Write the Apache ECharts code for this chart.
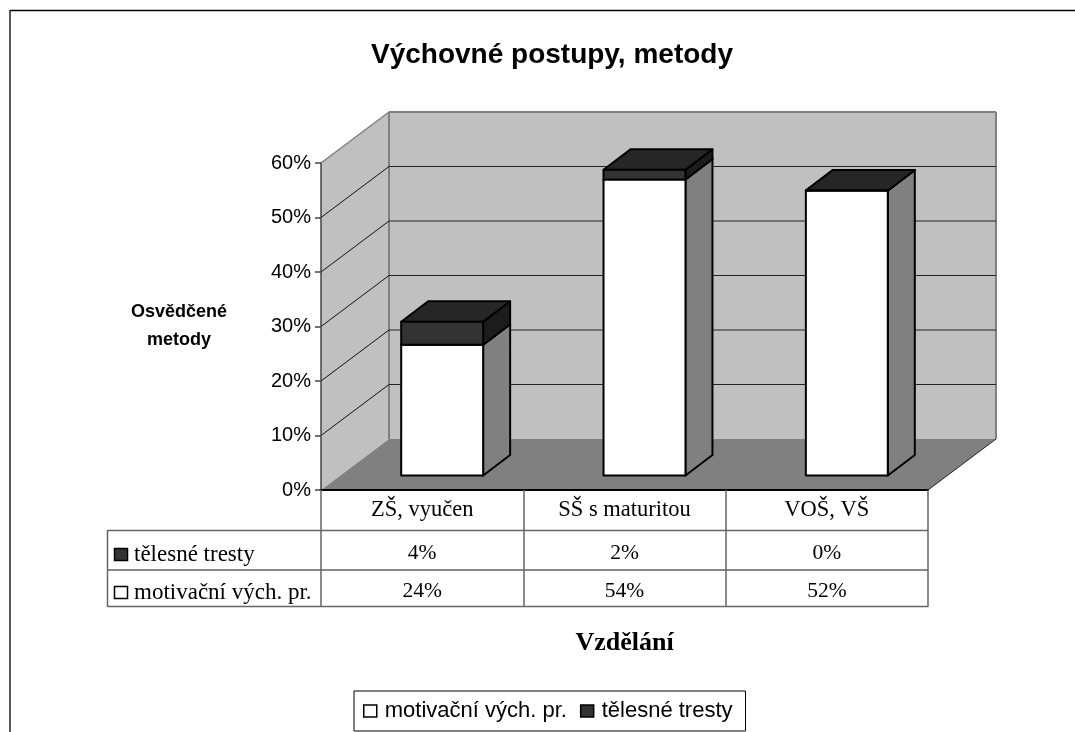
<!DOCTYPE html>
<html><head><meta charset="utf-8">
<style>html,body{margin:0;padding:0;background:#fff}#c{width:1075px;height:732px}</style>
<script src="https://cdn.jsdelivr.net/npm/echarts@6/dist/echarts.min.js"></script>
</head><body><div id="c"></div>
<script>
const categories = ['ZŠ, vyučen', 'SŠ s maturitou', 'VOŠ, VŠ'];
const motivacni = [24, 54.3, 52.3];
const telesne = [4.2, 1.8, 0];
const yTicks = [0, 10, 20, 30, 40, 50, 60];
const nameMotivacni = 'motivační vých. pr.';
const nameTelesne = 'tělesné tresty';

const SANS = '"Liberation Sans", Arial, sans-serif';
const SERIF = '"Liberation Serif", "Times New Roman", serif';
const GRID = { left: 321, top: 163, width: 607, height: 327 };
const WALL_DX = 68, WALL_DY = -51;
const BAR_DX = 20, BAR_DY = -14.5, BAR_DEPTH_DX = 27, BAR_DEPTH_DY = -20.5;
const ROW_TEL = 553, ROW_MOT = 591;

function poly(points, fill, stroke, lw) {
  return { type: 'polygon', shape: { points }, style: { fill, stroke: stroke || 'none', lineWidth: lw || 0, lineJoin: 'round' } };
}
function seg(x1, y1, x2, y2, stroke, lw) {
  return { type: 'line', shape: { x1, y1, x2, y2 }, style: { stroke, lineWidth: lw } };
}

function renderWalls(params, api) {
  const cs = params.coordSys;
  const tick = api.value(0);
  const y = api.coord([0, tick])[1];
  const L = cs.x, R = cs.x + cs.width, T = cs.y, B = cs.y + cs.height;
  const children = [];
  if (params.dataIndex === 0) {
    children.push(poly([[L, T], [L + WALL_DX, T + WALL_DY], [L + WALL_DX, B + WALL_DY], [L, B]], '#c0c0c0'));
    children.push(poly([[L + WALL_DX, T + WALL_DY], [R + WALL_DX, T + WALL_DY], [R + WALL_DX, B + WALL_DY], [L + WALL_DX, B + WALL_DY]], '#c0c0c0'));
    children.push(poly([[L, B], [L + WALL_DX, B + WALL_DY], [R + WALL_DX, B + WALL_DY], [R, B]], '#808080'));
    children.push(seg(R, B, R + WALL_DX, B + WALL_DY, '#222', 1));
    children.push(seg(L + WALL_DX, T + WALL_DY, R + WALL_DX, T + WALL_DY, '#808080', 2));
    children.push(seg(L + WALL_DX, T + WALL_DY, L + WALL_DX, B + WALL_DY, '#808080', 2));
    children.push(seg(R + WALL_DX, T + WALL_DY, R + WALL_DX, B + WALL_DY, '#808080', 2));
    children.push(seg(L, T, L + WALL_DX, T + WALL_DY, '#808080', 1.5));
  } else if (tick < yTicks[yTicks.length - 1]) {
    children.push(seg(L, y, L + WALL_DX, y + WALL_DY, '#111', 1));
    children.push(seg(L + WALL_DX, y + WALL_DY, R + WALL_DX, y + WALL_DY, '#222', 1));
  }
  return { type: 'group', children };
}

function barRenderer(front, side, top) {
  return function (params, api) {
    const i = api.value(0);
    const c0 = api.coord([i, api.value(1)]);
    const c1 = api.coord([i, api.value(2)]);
    const w = api.size([1, 0])[0] * 0.405;
    const xl = c0[0] - w / 2 + BAR_DX, xr = c0[0] + w / 2 + BAR_DX;
    const yb = c0[1] + BAR_DY, yt = c1[1] + BAR_DY;
    const ddx = BAR_DEPTH_DX, ddy = BAR_DEPTH_DY;
    const s = '#000', lw = 2;
    return { type: 'group', children: [
      poly([[xr, yb], [xr + ddx, yb + ddy], [xr + ddx, yt + ddy], [xr, yt]], side, s, lw),
      poly([[xl, yt], [xr, yt], [xr + ddx, yt + ddy], [xl + ddx, yt + ddy]], top, s, lw),
      poly([[xl, yb], [xr, yb], [xr, yt], [xl, yt]], front, s, lw)
    ] };
  };
}

function tableRow(values, rowY) {
  return {
    type: 'custom', z: 6, silent: true,
    data: values.map((v, i) => [i, v]),
    renderItem(params, api) {
      const x = api.coord([api.value(0), 0])[0];
      return { type: 'text', style: {
        text: Math.round(api.value(1)) + '%', x, y: rowY, align: 'center', verticalAlign: 'middle',
        font: '21.5px ' + SERIF, fill: '#000' } };
    }
  };
}

const chart = echarts.init(document.getElementById('c'), null, { renderer: 'canvas' });
chart.setOption({
  animation: false,
  backgroundColor: '#fff',
  title: {
    text: 'Výchovné postupy, metody', left: 547, top: 36, textAlign: 'center',
    textStyle: { fontFamily: SANS, fontSize: 28, fontWeight: 'bold', color: '#000' }
  },
  legend: {
    data: [nameMotivacni, nameTelesne], left: 354, top: 691, orient: 'horizontal', selectedMode: false,
    icon: 'rect', itemWidth: 13, itemHeight: 12, itemGap: 13, padding: [9, 13, 9, 9],
    borderColor: '#000', borderWidth: 1, backgroundColor: '#fff',
    textStyle: { fontFamily: SANS, fontSize: 22, color: '#000', padding: [0, 0, 0, 3] },
    itemStyle: { borderColor: '#000', borderWidth: 1.5 }
  },
  grid: { left: GRID.left, top: GRID.top, width: GRID.width, height: GRID.height, containLabel: false },
  xAxis: {
    type: 'category', data: categories, z: 5,
    name: 'Vzdělání', nameLocation: 'middle', nameGap: 140,
    nameTextStyle: { fontFamily: SERIF, fontSize: 26, fontWeight: 'bold', color: '#000' },
    axisLine: { lineStyle: { color: '#000', width: 2 } },
    axisTick: { show: true, alignWithLabel: false, length: 117, lineStyle: { color: '#666', width: 1.5 } },
    axisLabel: { margin: 9, fontFamily: SERIF, fontSize: 22.5, color: '#000' }
  },
  yAxis: {
    type: 'value', min: 0, max: 60, interval: 10, z: 5,
    name: 'Osvědčené\nmetody', nameLocation: 'middle', nameRotate: 0, nameGap: 142,
    nameTextStyle: { fontFamily: SANS, fontSize: 18, fontWeight: 'bold', color: '#000', lineHeight: 28, align: 'center' },
    axisLine: { show: true, lineStyle: { color: '#444', width: 1.5 } },
    axisTick: { show: true, length: 6, lineStyle: { color: '#444', width: 1.5 } },
    axisLabel: { margin: 10, fontFamily: SANS, fontSize: 20, color: '#000', formatter: '{value}%' },
    splitLine: { show: false }
  },
  series: [
    { type: 'custom', z: 1, silent: true, data: yTicks.map(t => [t]), renderItem: renderWalls },
    {
      type: 'custom', name: nameMotivacni, z: 7, silent: true,
      itemStyle: { color: '#fff' },
      data: motivacni.map((v, i) => [i, 0, v]),
      renderItem: barRenderer('#fff', '#808080', '#c0c0c0')
    },
    {
      type: 'custom', name: nameTelesne, z: 8, silent: true,
      itemStyle: { color: '#333' },
      data: telesne.map((v, i) => [i, motivacni[i], motivacni[i] + v]),
      renderItem: barRenderer('#333', '#1c1c1c', '#262626')
    },
    tableRow(telesne, ROW_TEL),
    tableRow(motivacni, ROW_MOT)
  ],
  graphic: [
    { type: 'line', silent: true, z: 0, shape: { x1: 10, y1: 10.5, x2: 1075, y2: 10.5 }, style: { stroke: '#000', lineWidth: 1.5 } },
    { type: 'line', silent: true, z: 0, shape: { x1: 10, y1: 10, x2: 10, y2: 732 }, style: { stroke: '#222', lineWidth: 1.5 } },
    { type: 'line', silent: true, shape: { x1: 107.5, y1: 530.5, x2: 928, y2: 530.5 }, style: { stroke: '#666', lineWidth: 1.5 } },
    { type: 'line', silent: true, shape: { x1: 108, y1: 570, x2: 928, y2: 570 }, style: { stroke: '#111', lineWidth: 1.2 } },
    { type: 'line', silent: true, shape: { x1: 107.5, y1: 606.5, x2: 928, y2: 606.5 }, style: { stroke: '#666', lineWidth: 1.5 } },
    { type: 'line', silent: true, shape: { x1: 107.5, y1: 530, x2: 107.5, y2: 607 }, style: { stroke: '#666', lineWidth: 1.5 } },
    { type: 'rect', silent: true, shape: { x: 114.5, y: 548.5, width: 13, height: 12 }, style: { fill: '#333', stroke: '#000', lineWidth: 1.5 } },
    { type: 'rect', silent: true, shape: { x: 114.5, y: 586.5, width: 13, height: 12 }, style: { fill: '#fff', stroke: '#000', lineWidth: 1.5 } },
    { type: 'text', silent: true, style: { text: nameTelesne, x: 134, y: 555, verticalAlign: 'middle', font: '23px ' + SERIF, fill: '#000' } },
    { type: 'text', silent: true, style: { text: nameMotivacni, x: 134, y: 593, verticalAlign: 'middle', font: '23px ' + SERIF, fill: '#000' } }
  ]
});
</script></body></html>
